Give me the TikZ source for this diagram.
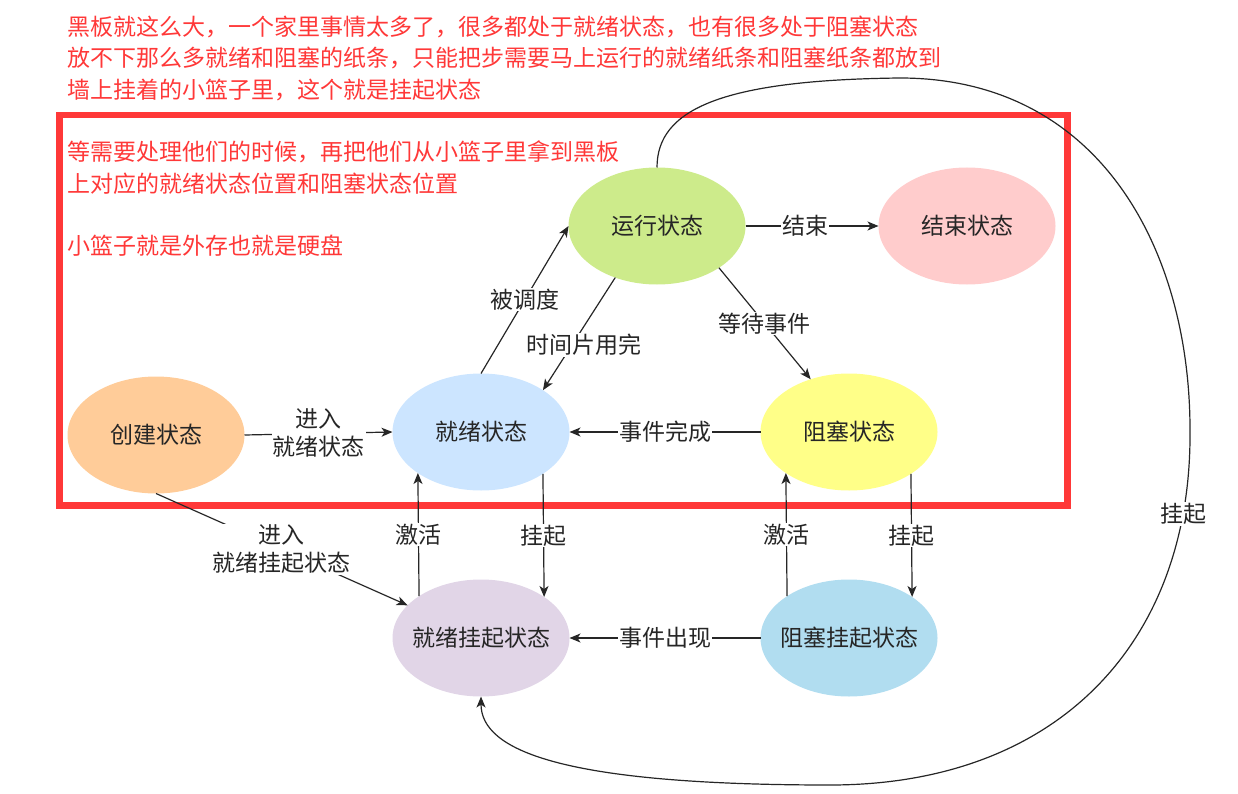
\documentclass[tikz,border=0pt]{standalone}
\usepackage{fontspec}
\setmainfont{Noto Sans CJK SC}
\usetikzlibrary{arrows.meta,shapes.geometric}
\definecolor{redc}{HTML}{FF3838}
\definecolor{txt}{HTML}{262626}
\definecolor{cyx}{HTML}{CDEB8B}
\definecolor{cjs}{HTML}{FFCCCC}
\definecolor{ccj}{HTML}{FFCC99}
\definecolor{cjx}{HTML}{CCE5FF}
\definecolor{czs}{HTML}{FFFF88}
\definecolor{cjxgq}{HTML}{E1D5E7}
\definecolor{czsgq}{HTML}{B1DDF0}
\begin{document}
\begin{tikzpicture}[x=1pt,y=-1pt,
  st/.style={ellipse, minimum width=177pt, minimum height=117pt, inner xsep=-16pt, inner ysep=0pt, outer sep=0pt, text=txt, font=\fontsize{23}{28}\selectfont},
  arr/.style={-{Stealth[length=11pt,width=9pt,inset=3pt]}, line width=1.2pt, draw=black!85},
  lbl/.style={fill=white, inner sep=1pt, text=txt, font=\fontsize{23}{28}\selectfont, align=center},
  note/.style={text=redc, font=\fontsize{23}{31.2}\selectfont, align=left, inner sep=0pt, anchor=north west}]
\useasboundingbox (0,0) rectangle (1238,794);
% notes
\node[note] (n1) at (67,16) {黑板就这么大，一个家里事情太多了，很多都处于就绪状态，也有很多处于阻塞状态\\放不下那么多就绪和阻塞的纸条，只能把步需要马上运行的就绪纸条和阻塞纸条都放到\\墙上挂着的小篮子里，这个就是挂起状态};
\node[draw=redc, line width=6.5pt, minimum width=1008pt, minimum height=390pt, inner sep=0pt, anchor=north west] (box) at (56,112) {};
\node[note] (n2) at (67,141) {等需要处理他们的时候，再把他们从小篮子里拿到黑板\\上对应的就绪状态位置和阻塞状态位置\\[31.2pt]小篮子就是外存也就是硬盘};
% states
\node[st, fill=cyx] (yx) at (657,226) {运行状态};
\node[st, fill=cjs] (js) at (967,226) {结束状态};
\node[st, fill=ccj] (cj) at (156,435) {创建状态};
\node[st, fill=cjx] (jx) at (481,432) {就绪状态};
\node[st, fill=czs] (zs) at (849,432) {阻塞状态};
\node[st, fill=cjxgq] (jxgq) at (481,638) {就绪挂起状态};
\node[st, fill=czsgq] (zsgq) at (849,638) {阻塞挂起状态};
% edges
\draw[arr] (cj.east) -- node[lbl] {进入\\就绪状态} (jx.west);
\draw[arr] (jx.north) -- node[lbl] {被调度} (yx.west);
\draw[arr] (yx.231.6) -- node[lbl, pos=0.6, xshift=12pt] {时间片用完} (jx.34);
\draw[arr] (yx.east) -- node[lbl, pos=0.45] {结束} (js.west);
\draw[arr] (yx.326.9) -- node[lbl] {等待事件} (zs.126.6);
\draw[arr] (zs.west) -- node[lbl] {事件完成} (jx.east);
\draw[arr] (jxgq.146.9) -- node[lbl] {激活} (jx.213.1);
\draw[arr] (jx.326.9) -- node[lbl] {挂起} (jxgq.33.1);
\draw[arr] (zsgq.146.9) -- node[lbl] {激活} (zs.213.1);
\draw[arr] (zs.326.9) -- node[lbl] {挂起} (zsgq.33.1);
\draw[arr] (zsgq.west) -- node[lbl] {事件出现} (jxgq.east);
\draw[arr] (cj.south) -- node[lbl] {进入\\就绪挂起状态} (jxgq.156.5);
\draw[arr] (yx.north) .. controls (657,110) and (720,80) .. (900,78)
  .. controls (1100,78) and (1190,250) .. (1190,430)
  .. controls (1192,640) and (1060,785) .. node[lbl, pos=0.14] {挂起} (830,785)
  .. controls (560,785) and (481,750) .. (jxgq.south);
\end{tikzpicture}
\end{document}
